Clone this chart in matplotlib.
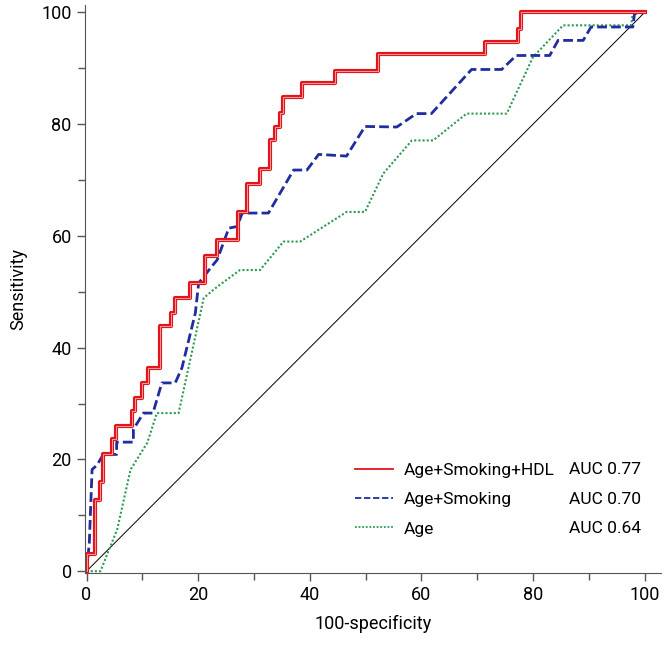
import matplotlib
matplotlib.use("Agg")
import matplotlib.pyplot as plt

plt.rcParams['font.family'] = ['Roboto', 'DejaVu Sans']

# ROC curves (100-specificity, sensitivity)
hdl_x = [0, 0, 1.6, 1.6, 2.5, 2.5, 3, 3, 4.6, 4.6, 5.2, 5.2, 8.2, 8.2, 8.6, 8.6, 10, 10,
         11.1, 11.1, 13.1, 13.1, 15.1, 15.1, 15.9, 15.9, 18.6, 18.6, 21.3, 21.3, 23.4, 23.4,
         27.1, 27.1, 28.7, 28.7, 31, 31, 32.8, 32.8, 33.8, 33.8, 34.6, 34.6, 35.2, 35.2,
         38.6, 38.6, 44.5, 44.5, 52.3, 52.3, 71.4, 71.4, 77.3, 77.3, 77.9, 77.9, 100]
hdl_y = [0, 3, 3, 12.8, 12.8, 15.9, 15.9, 20.9, 20.9, 23.6, 23.6, 25.9, 25.9, 28.6, 28.6, 31,
         31, 33.6, 33.6, 36.4, 36.4, 43.8, 43.8, 46.2, 46.2, 48.9, 48.9, 51.6, 51.6, 56.4,
         56.4, 59.2, 59.2, 64.3, 64.3, 69.3, 69.3, 71.9, 71.9, 77.1, 77.1, 79.5, 79.5, 82,
         82, 84.9, 84.9, 87.3, 87.3, 89.6, 89.6, 92.6, 92.6, 94.7, 94.7, 97, 97, 100, 100]

smk_x = [0, 0.5, 1, 1.9, 3, 5.4, 5.4, 8.4, 8.4, 10.2, 11.9, 13.5, 15.9, 17.1, 19.5, 20.1,
         21, 22.4, 23.4, 25.5, 27, 27.9, 32.6, 37.1, 39.5, 41.6, 46.6, 49.9, 55.6, 59.1,
         61.8, 69, 74.4, 77, 83, 84.5, 89, 90.4, 97.9, 98.2, 100]
smk_y = [0, 5, 18.2, 19, 20.9, 20.9, 23.1, 23.1, 25.4, 28.3, 28.3, 33.7, 33.7, 36.4, 46.2,
         51.6, 52.7, 54.5, 55.7, 61.4, 61.7, 64.1, 64.1, 71.8, 71.8, 74.6, 74.3, 79.6, 79.5,
         81.9, 81.9, 89.8, 89.8, 92.3, 92.3, 95, 95, 97.4, 97.4, 99.8, 100]

age_x = [0, 2.5, 5.5, 7.9, 10.9, 12.6, 16.5, 18.6, 21, 23.4, 27.5, 31.1, 35.3, 38.3, 46.6,
         49.9, 53.2, 58.3, 62.1, 68.1, 75.3, 80, 85.4, 97.6, 97.9, 100]
age_y = [0, 0, 7.5, 18.2, 23, 28.3, 28.3, 37.9, 48.9, 50.9, 53.9, 53.9, 59, 59, 64.3, 64.3,
         71.2, 77.1, 77.1, 81.9, 81.9, 92, 97.7, 97.7, 100, 100]

labels = ['Age+Smoking+HDL', 'Age+Smoking', 'Age']
auc = [0.77, 0.70, 0.64]

fig = plt.figure(figsize=(6.68, 6.51), dpi=100)
ax = fig.add_axes([0.127, 0.12, 0.863, 0.872])

ax.plot([0, 100], [0, 100], color='black', lw=0.7)
ax.plot(age_x, age_y, color='#2f9a55', lw=1.5, linestyle=(0, (1, 1)), label=labels[2])
ax.plot(smk_x, smk_y, color='#1f2d9e', lw=2, linestyle=(0, (3.5, 1.5)), label=labels[1])
ax.plot(hdl_x, hdl_y, color='#e3141b', lw=3, label=labels[0])
ax.plot(hdl_x, hdl_y, color='#f6b4b4', lw=0.6)

h, l = ax.get_legend_handles_labels()
leg = ax.legend(h[::-1], l[::-1], loc='lower left', bbox_to_anchor=(0.469, 0.064),
                frameon=False, fontsize=12.5, handlelength=2.2, handletextpad=0.6,
                labelspacing=0.82, borderpad=0, borderaxespad=0)
for line in leg.get_lines():
    line.set_linewidth(1.3)

for i, a in enumerate(auc):
    ax.text(0.839, 0.1817 - i * 0.052, 'AUC %.2f' % a, transform=ax.transAxes,
            fontsize=12.5, va='center', ha='left')

ax.set_xlim(-0.3, 103)
ax.set_ylim(-0.3, 101.3)
ax.set_xticks([0, 20, 40, 60, 80, 100])
ax.set_yticks([0, 20, 40, 60, 80, 100])
ax.set_xticks(range(10, 100, 20), minor=True)
ax.set_yticks(range(10, 100, 20), minor=True)
ax.tick_params(which='both', direction='out', color='#555555', labelsize=13, width=1)
ax.tick_params(which='major', length=6)
ax.tick_params(which='minor', length=5)
for s in ['top', 'right']:
    ax.spines[s].set_visible(False)
for s in ['left', 'bottom']:
    ax.spines[s].set_color('#555555')

ax.set_xlabel('100-specificity', fontsize=13, labelpad=8)
ax.set_ylabel('Sensitivity', fontsize=13, labelpad=10)

fig.savefig('out.png', dpi=100)
